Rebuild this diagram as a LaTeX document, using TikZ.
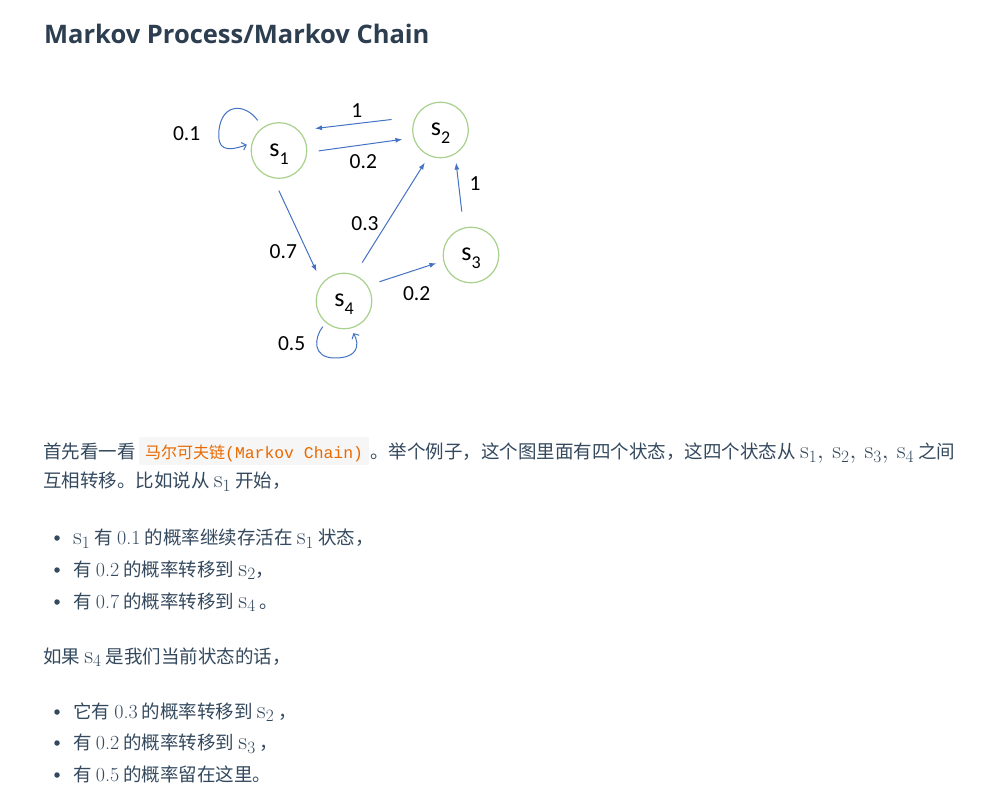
\documentclass[tikz,border=0pt]{standalone}
\usepackage{fontspec}
\usepackage{xcolor}
\usepackage{tikz}
\usetikzlibrary{arrows.meta}
\newfontfamily\cjk{Noto Sans CJK SC}
\newfontfamily\diagfont{Carlito}
\newfontfamily\headfont{Open Sans}
\newfontfamily\codefont{Liberation Mono}
\definecolor{arrowblue}{HTML}{4472C4}
\definecolor{stategreen}{HTML}{A9D18E}
\definecolor{headc}{HTML}{2C3E50}
\definecolor{bodyc}{HTML}{34495E}
\definecolor{codec}{HTML}{E96900}
\definecolor{codebg}{HTML}{F6F6F6}
\newcommand{\stlabel}[1]{s\raisebox{-8pt}{\fontsize{18}{18}\selectfont #1}}
\newcommand{\sst}[1]{{\fontsize{24.5}{28}\selectfont$\mathrm{s}_{#1}$}}
\newcommand{\pnum}[1]{{\rmfamily\fontsize{20}{24}\selectfont #1}}

\begin{document}
\begin{tikzpicture}[x=1pt, y=-1pt,
  every node/.style={inner sep=0pt},
  state/.style={circle, draw=stategreen, line width=1.2pt, minimum size=55.6pt, font=\diagfont\fontsize{26}{30}\selectfont, text height=20pt, text depth=8pt},
  edge/.style={draw=arrowblue, line width=1pt, -{Latex[length=7pt,width=5pt]}},
  loopedge/.style={draw=arrowblue, line width=1pt, -{Straight Barb[length=4pt,width=8pt]}},
  prob/.style={font=\diagfont\fontsize{21.5}{25}\selectfont},
  txt/.style={anchor=base west, text=bodyc, font=\cjk\fontsize{18.5}{24}\selectfont},
  codebox/.style={anchor=base west, fill=codebg, rounded corners=2pt, inner xsep=6pt, inner ysep=6pt, text height=16pt, text depth=0pt, text=codec},
  dot/.style={circle, fill=bodyc, minimum size=5.5pt}
]
  \fill[white] (0,0) rectangle (989,802);
  \useasboundingbox (0,0) rectangle (989,802);

  \node[anchor=base west, text=headc, font=\headfont\bfseries\fontsize{25.5}{30}\selectfont] (title) at (44,43.5) {Markov Process/Markov Chain};

  \node[state] (s1) at (279,150.5) {\stlabel{1}};
  \node[state] (s2) at (440.5,130) {\stlabel{2}};
  \node[state] (s3) at (471,255)   {\stlabel{3}};
  \node[state] (s4) at (344,301)   {\stlabel{4}};

  \draw[edge, shorten <=11.5pt, shorten >=10.9pt] (s1.-4) -- (s2.196);
  \draw[edge, shorten <=24pt, shorten >=16pt] (s2.152) -- (s1.45);
  \draw[edge, shorten <=13.6pt, shorten >=12.7pt] (s1.258) -- (s4.141);
  \draw[edge, shorten <=14.3pt, shorten >=7.8pt] (s4.68) -- (s2.246);
  \draw[edge, shorten <=12.2pt, shorten >=7.1pt] (s4.33) -- (s3.192);
  \draw[edge, shorten <=16.1pt, shorten >=8.3pt] (s3.105) -- (s2.301);
  \draw[loopedge, shorten <=8.5pt, shorten >=5pt] (s1.125) .. controls (245,103) and (222,103) .. (219,130) .. controls (217,150) and (226,152) .. (s1.165);
  \draw[loopedge, shorten <=4.8pt, shorten >=5.2pt] (s4.230) .. controls (314,338) and (312,358) .. (335,358) .. controls (358,358) and (360,345) .. (s4.284);

  \node[prob] (p11) at (186.7,133.3) {0.1};
  \node[prob] (p21) at (356.7,110.7) {1};
  \node[prob] (p12) at (363.3,161.7) {0.2};
  \node[prob] (p32) at (475,183.3)   {1};
  \node[prob] (p42) at (365,223.3)   {0.3};
  \node[prob] (p14) at (283.3,251.7) {0.7};
  \node[prob] (p43) at (416.7,293.3) {0.2};
  \node[prob] (p44) at (291.7,343.3) {0.5};

  \node[txt] (l1a) at (43,459) {首先看一看};
  \node[codebox] (code) at (139,459) {{\cjk\fontsize{16}{20}\selectfont 马尔可夫链}{\codefont\fontsize{16.4}{20}\selectfont (Markov Chain)}};
  \node[txt] (l1b) at ([xshift=1pt]code.east |- l1a.base) {。举个例子，这个图里面有四个状态，这四个状态从 {\fontsize{24.5}{28}\selectfont$\mathrm{s}_1,\,\mathrm{s}_2,\,\mathrm{s}_3,\,\mathrm{s}_4$} 之间};
  \node[txt] (l2) at (43,488) {互相转移。比如说从 \sst{1} 开始，};

  \node[dot] (b1) at (57,538) {};
  \node[dot] (b2) at (57,570) {};
  \node[dot] (b3) at (57,602) {};
  \node[txt] (i1) at (73,544.5) {\sst{1} 有 \pnum{0.1} 的概率继续存活在 \sst{1} 状态，};
  \node[txt] (i2) at (73,576)   {有 \pnum{0.2} 的概率转移到 \sst{2}，};
  \node[txt] (i3) at (73,608)   {有 \pnum{0.7} 的概率转移到 \sst{4} 。};

  \node[txt] (q) at (43,663) {如果 \sst{4} 是我们当前状态的话，};

  \node[dot] (b4) at (57,712) {};
  \node[dot] (b5) at (57,743) {};
  \node[dot] (b6) at (57,775) {};
  \node[txt] (i4) at (73,718)   {它有 \pnum{0.3} 的概率转移到 \sst{2} ，};
  \node[txt] (i5) at (73,749.5) {有 \pnum{0.2} 的概率转移到 \sst{3} ，};
  \node[txt] (i6) at (73,781)   {有 \pnum{0.5} 的概率留在这里。};
\end{tikzpicture}
\end{document}
